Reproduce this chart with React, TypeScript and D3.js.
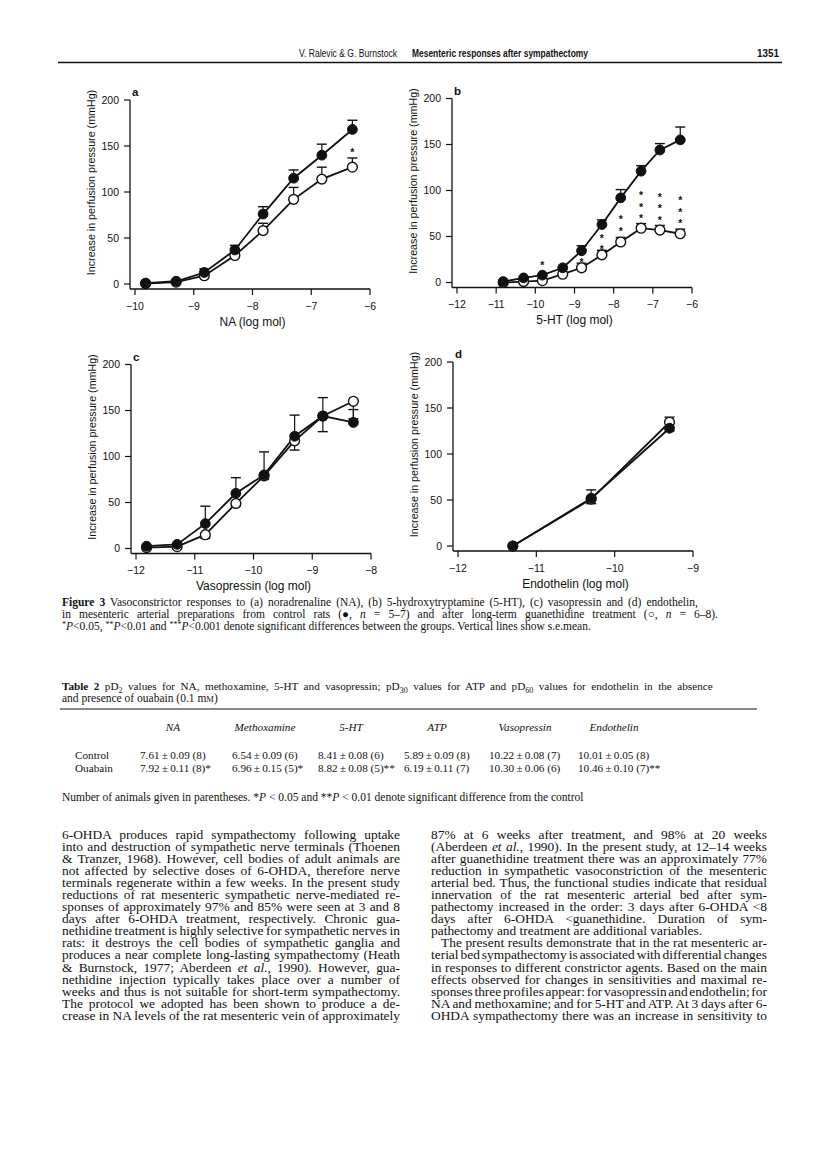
import React, { useLayoutEffect, useRef } from "react";
import * as d3 from "d3";

// ---------- Figure 3 data (x = log mol, y = increase in perfusion pressure, mmHg) ----------
// (a) NA
const naDoses = [-9.82, -9.3, -8.82, -8.3, -7.82, -7.3, -6.82, -6.3];
const naControl = [1, 3, 12.5, 37, 76, 115, 140, 168];
const naControlSem = [0, 0, 4, 5, 8, 9, 12, 10];
const naGuan = [0.5, 2, 9, 31, 58, 92, 114, 127];
const naGuanSem = [0, 0, 0, 0, 8, 13, 13, 10];
const naStarDoses = [-6.3];
const naStarLevels = [146];
const naStarCounts = [1];

// (b) 5-HT
const htDoses = [-10.82, -10.3, -9.82, -9.3, -8.82, -8.3, -7.82, -7.3, -6.82, -6.3];
const htControl = [1, 5, 8, 16, 34.5, 63, 92, 121, 144, 155];
const htControlSem = [0, 0, 0, 0, 5.5, 5, 9, 6, 7, 14];
const htGuan = [0, 1, 2, 9, 16, 30, 44, 59, 57, 53];
const htGuanSem = [0, 0, 0, 0, 5, 5, 5, 5, 5, 5];
const htStarDoses = [-9.82, -8.82, -8.3, -7.82, -7.3, -6.82, -6.3];
const htStarLevels = [20.7, 24.4, 51, 71, 97.5, 95.6, 92];
const htStarCounts = [1, 1, 2, 2, 3, 3, 3];

// (c) Vasopressin
const vpDoses = [-11.82, -11.3, -10.82, -10.3, -9.82, -9.3, -8.82, -8.3];
const vpControl = [2.5, 4.5, 27, 60, 80, 122, 144, 137];
const vpControlSem = [0, 0, 19, 17, 25, 23, 20, 14];
const vpGuan = [1, 2, 15, 49, 79, 117, 144, 160];
const vpGuanSem = [0, 0, 4, 3, 4, 10, 17, 19];

// (d) Endothelin
const etDoses = [-11.3, -10.3, -9.3];
const etControl = [0, 52, 128];
const etControlSem = [0, 6, 3];
const etGuan = [0, 51, 134.5];
const etGuanSem = [0, 10, 5.5];

const yTicks = [0, 50, 100, 150, 200];

// ---------- Text content ----------
const headerAuthors = "V. Ralevic & G. Burnstock";
const headerTitle = "Mesenteric responses after sympathectomy";
const headerPage = "1351";

const tableCols = ["NA", "Methoxamine", "5-HT", "ATP", "Vasopressin", "Endothelin"];
const tableRowNames = ["Control", "Ouabain"];
const tableControl = ["7.61\u2009±\u20090.09 (8)", "6.54\u2009±\u20090.09 (6)", "8.41\u2009±\u20090.08 (6)", "5.89\u2009±\u20090.09 (8)", "10.22\u2009±\u20090.08 (7)", "10.01\u2009±\u20090.05 (8)"];
const tableOuabain = ["7.92\u2009±\u20090.11 (8)*", "6.96\u2009±\u20090.15 (5)*", "8.82\u2009±\u20090.08 (5)**", "6.19\u2009±\u20090.11 (7)", "10.30\u2009±\u20090.06 (6)", "10.46\u2009±\u20090.10 (7)**"];

const leftColumn = [
  "6-OHDA produces rapid sympathectomy following uptake",
  "into and destruction of sympathetic nerve terminals (Thoenen",
  "& Tranzer, 1968). However, cell bodies of adult animals are",
  "not affected by selective doses of 6-OHDA, therefore nerve",
  "terminals regenerate within a few weeks. In the present study",
  "reductions of rat mesenteric sympathetic nerve-mediated re-",
  "sponses of approximately 97% and 85% were seen at 3 and 8",
  "days after 6-OHDA treatment, respectively. Chronic gua-",
  "nethidine treatment is highly selective for sympathetic nerves in",
  "rats: it destroys the cell bodies of sympathetic ganglia and",
  "produces a near complete long-lasting sympathectomy (Heath",
  "& Burnstock, 1977; Aberdeen |et al.|, 1990). However, gua-",
  "nethidine injection typically takes place over a number of",
  "weeks and thus is not suitable for short-term sympathectomy.",
  "The protocol we adopted has been shown to produce a de-",
  "crease in NA levels of the rat mesenteric vein of approximately",
];
const rightColumn = [
  "87% at 6 weeks after treatment, and 98% at 20 weeks",
  "(Aberdeen |et al.|, 1990). In the present study, at 12\u201314 weeks",
  "after guanethidine treatment there was an approximately 77%",
  "reduction in sympathetic vasoconstriction of the mesenteric",
  "arterial bed. Thus, the functional studies indicate that residual",
  "innervation of the rat mesenteric arterial bed after sym-",
  "pathectomy increased in the order: 3 days after 6-OHDA <8",
  "days after 6-OHDA <guanethidine. Duration of sym-",
  "pathectomy and treatment are additional variables.",
  "The present results demonstrate that in the rat mesenteric ar-",
  "terial bed sympathectomy is associated with differential changes",
  "in responses to different constrictor agents. Based on the main",
  "effects observed for changes in sensitivities and maximal re-",
  "sponses three profiles appear: for vasopressin and endothelin; for",
  "NA and methoxamine; and for 5-HT and ATP. At 3 days after 6-",
  "OHDA sympathectomy there was an increase in sensitivity to",
];
const rightRagged = [8];
const rightIndent = [9];

const SANS = "'Liberation Sans', Arial, Helvetica, sans-serif";
const NARROW = "'Liberation Sans Narrow', 'Liberation Sans', Arial, sans-serif";
const SERIF = "'Liberation Serif', 'Times New Roman', Times, serif";
const INK = "#111";

type PanelCfg = {
  letter: string;
  xDomain: [number, number];
  xTitle: string;
  doses: number[];
  control: number[];
  controlSem: number[];
  controlDir: number;
  guan: number[];
  guanSem: number[];
  guanDir: number;
  starDoses?: number[];
  starLevels?: number[];
  starCounts?: number[];
};

const panels: { cfg: PanelCfg; left: number; top: number }[] = [
  {
    cfg: { letter: "a", xDomain: [-10, -6], xTitle: "NA (log mol)", doses: naDoses, control: naControl, controlSem: naControlSem, controlDir: 1, guan: naGuan, guanSem: naGuanSem, guanDir: 1, starDoses: naStarDoses, starLevels: naStarLevels, starCounts: naStarCounts },
    left: 130, top: 100,
  },
  {
    cfg: { letter: "b", xDomain: [-12, -6], xTitle: "5-HT (log mol)", doses: htDoses, control: htControl, controlSem: htControlSem, controlDir: 1, guan: htGuan, guanSem: htGuanSem, guanDir: 1, starDoses: htStarDoses, starLevels: htStarLevels, starCounts: htStarCounts },
    left: 452, top: 98.5,
  },
  {
    cfg: { letter: "c", xDomain: [-12, -8], xTitle: "Vasopressin (log mol)", doses: vpDoses, control: vpControl, controlSem: vpControlSem, controlDir: 1, guan: vpGuan, guanSem: vpGuanSem, guanDir: -1 },
    left: 131, top: 364.5,
  },
  {
    cfg: { letter: "d", xDomain: [-12, -9], xTitle: "Endothelin (log mol)", doses: etDoses, control: etControl, controlSem: etControlSem, controlDir: -1, guan: etGuan, guanSem: etGuanSem, guanDir: 1 },
    left: 453, top: 362,
  },
];

const fmt = (v: number) => (v < 0 ? "\u2212" + Math.abs(v) : String(v));

function Panel({ cfg, left, top }: { cfg: PanelCfg; left: number; top: number }) {
  const W = 235;
  const H = 184;
  const off = 5;
  const x = d3.scaleLinear().domain(cfg.xDomain).range([left + off, left + off + W]);
  const y = d3.scaleLinear().domain([0, 200]).range([top + H, top]);
  const axisY = top + H + off;
  const xTicks = d3.range(cfg.xDomain[0], cfg.xDomain[1] + 0.001, 1);
  const line = d3
    .line<number>()
    .x((_, i) => x(cfg.doses[i]))
    .y((d) => y(d));
  const r = 4.9;
  const cap = 5;

  const errBars = (vals: number[], sems: number[], dir: number, key: string) =>
    vals.map((v, i) =>
      sems[i] > 0 ? (
        <g key={key + i}>
          <line x1={x(cfg.doses[i])} x2={x(cfg.doses[i])} y1={y(v)} y2={y(v + dir * sems[i])} stroke={INK} strokeWidth={1.2} />
          <line x1={x(cfg.doses[i]) - cap} x2={x(cfg.doses[i]) + cap} y1={y(v + dir * sems[i])} y2={y(v + dir * sems[i])} stroke={INK} strokeWidth={1.4} />
        </g>
      ) : null
    );

  const stars: JSX.Element[] = [];
  (cfg.starDoses || []).forEach((d, i) => {
    const n = cfg.starCounts![i];
    for (let k = 0; k < n; k++) {
      stars.push(
        <text key={"s" + i + "_" + k} x={x(d)} y={y(cfg.starLevels![i]) + k * 11.7 + 6} textAnchor="middle" fontFamily={SANS} fontSize={10.5} fontWeight="bold" fill={INK}>
          *
        </text>
      );
    }
  });

  return (
    <g>
      <line x1={left} x2={left} y1={y(200)} y2={axisY} stroke={INK} strokeWidth={1.3} />
      <line x1={left} x2={x(cfg.xDomain[1])} y1={axisY} y2={axisY} stroke={INK} strokeWidth={1.3} />
      {yTicks.map((t) => (
        <g key={"y" + t}>
          <line x1={left - 6} x2={left} y1={y(t)} y2={y(t)} stroke={INK} strokeWidth={1.2} />
          <text x={left - 11} y={y(t) + 3.8} textAnchor="end" fontFamily={SANS} fontSize={10.5} fill={INK}>
            {t}
          </text>
        </g>
      ))}
      {xTicks.map((t) => (
        <g key={"x" + t}>
          <line x1={x(t)} x2={x(t)} y1={axisY} y2={axisY + 6} stroke={INK} strokeWidth={1.2} />
          <text x={x(t)} y={axisY + 20.5} textAnchor="middle" fontFamily={SANS} fontSize={10.5} fill={INK}>
            {fmt(t)}
          </text>
        </g>
      ))}
      <text x={x((cfg.xDomain[0] + cfg.xDomain[1]) / 2)} y={axisY + 36.5} textAnchor="middle" fontFamily={SANS} fontSize={12} fill={INK}>
        {cfg.xTitle}
      </text>
      <text transform={`translate(${left - 35.5},${top + 82.5}) rotate(-90)`} textAnchor="middle" fontFamily={SANS} fontSize={10.7} fill={INK}>
        Increase in perfusion pressure (mmHg)
      </text>
      <text x={left + 2} y={top - 4} fontFamily={SANS} fontSize={11.5} fontWeight="bold" fill={INK}>
        {cfg.letter}
      </text>

      <path d={line(cfg.guan) || ""} fill="none" stroke={INK} strokeWidth={1.8} />
      <path d={line(cfg.control) || ""} fill="none" stroke={INK} strokeWidth={1.8} />
      {errBars(cfg.guan, cfg.guanSem, cfg.guanDir, "eg")}
      {errBars(cfg.control, cfg.controlSem, cfg.controlDir, "ec")}
      {cfg.guan.map((v, i) => (
        <circle key={"og" + i} cx={x(cfg.doses[i])} cy={y(v)} r={r} fill="#fff" stroke={INK} strokeWidth={1.4} />
      ))}
      {cfg.control.map((v, i) => (
        <circle key={"fc" + i} cx={x(cfg.doses[i])} cy={y(v)} r={r} fill={INK} stroke={INK} strokeWidth={1} />
      ))}
      {stars}
    </g>
  );
}

// A text line justified by word spacing (measured after layout).
function JText({ x, y, width, justify, children, ...rest }: any) {
  const ref = useRef<SVGTextElement>(null);
  useLayoutEffect(() => {
    const el = ref.current;
    if (!el || !justify) return;
    el.style.wordSpacing = "0px";
    const w = el.getComputedTextLength();
    const n = (el.textContent || "").split(" ").length - 1;
    if (n > 0) el.style.wordSpacing = (width - w) / n + "px";
  }, [width, justify]);
  return (
    <text ref={ref} x={x} y={y} {...rest}>
      {children}
    </text>
  );
}

function rich(s: string) {
  return s.split("|").map((part, i) =>
    i % 2 === 1 ? (
      <tspan key={i} fontStyle="italic">
        {part}
      </tspan>
    ) : (
      <tspan key={i}>{part}</tspan>
    )
  );
}

function Column({ lines, x0, width, y0, lh, ragged, indent }: { lines: string[]; x0: number; width: number; y0: number; lh: number; ragged: number[]; indent: number[] }) {
  const sx = 1.1;
  return (
    <g transform={`translate(${x0},0) scale(${sx},1)`}>
      {lines.map((l, i) => {
        const ind = indent.includes(i) ? 10 : 0;
        return (
          <JText key={i} x={ind / sx} y={y0 + i * lh} width={(width - ind) / sx} justify={!ragged.includes(i)} fontFamily={SERIF} fontSize={12.2} fill={INK}>
            {rich(l)}
          </JText>
        );
      })}
    </g>
  );
}

export default function App() {
  const tStarts = [140, 232, 318, 404, 489, 578];
  const tWidths = [66, 66, 66, 66, 72, 72];
  return (
    <div style={{ position: "absolute", left: 0, top: 0, width: 816, height: 1165, background: "#fff" }}>
      <svg width={816} height={1165} viewBox="0 0 816 1165" style={{ display: "block" }}>
        <rect width={816} height={1165} fill="#fff" />
        {/* running header */}
        <text x={299} y={57} fontFamily={NARROW} fontSize={11} fill={INK} textLength={98} lengthAdjust="spacingAndGlyphs">
          {headerAuthors}
        </text>
        <text x={412} y={57} fontFamily={NARROW} fontSize={11} fontWeight="bold" fill={INK} textLength={176} lengthAdjust="spacingAndGlyphs">
          {headerTitle}
        </text>
        <text x={757} y={57} fontFamily={NARROW} fontSize={11} fontWeight="bold" fill={INK} textLength={22} lengthAdjust="spacingAndGlyphs">
          {headerPage}
        </text>
        <line x1={58} x2={782} y1={62.5} y2={62.5} stroke={INK} strokeWidth={1.3} />

        {panels.map((p) => (
          <Panel key={p.cfg.letter} cfg={p.cfg} left={p.left} top={p.top} />
        ))}

        {/* Figure caption */}
        <g fontFamily={SERIF} fontSize={11.5} fill={INK}>
          <JText x={62} y={606} width={638} justify={true}>
            <tspan fontWeight="bold">Figure 3</tspan>
            <tspan>{"  Vasoconstrictor responses to (a) noradrenaline (NA), (b) 5-hydroxytryptamine (5-HT), (c) vasopressin and (d) endothelin,"}</tspan>
          </JText>
          <JText x={62} y={618} width={656} justify={true}>
            <tspan>{"in mesenteric arterial preparations from control rats (\u25CF, "}</tspan>
            <tspan fontStyle="italic">n</tspan>
            <tspan>{" = 5\u20137) and after long-term guanethidine treatment (\u25CB, "}</tspan>
            <tspan fontStyle="italic">n</tspan>
            <tspan>{" = 6\u20138)."}</tspan>
          </JText>
          <text x={62} y={630}>
            <tspan fontSize={8} dy={-3}>*</tspan>
            <tspan fontStyle="italic" dy={3}>P</tspan>
            <tspan>{"<0.05, "}</tspan>
            <tspan fontSize={8} dy={-3}>**</tspan>
            <tspan fontStyle="italic" dy={3}>P</tspan>
            <tspan>{"<0.01 and "}</tspan>
            <tspan fontSize={8} dy={-3}>***</tspan>
            <tspan fontStyle="italic" dy={3}>P</tspan>
            <tspan>{"<0.001 denote significant differences between the groups. Vertical lines show s.e.mean."}</tspan>
          </text>
        </g>

        {/* Table 2 */}
        <g fontFamily={SERIF} fontSize={11.2} fill={INK}>
          <JText x={62} y={690} width={656} justify={true} fontSize={11.2}>
            <tspan fontWeight="bold">Table 2</tspan>
            <tspan>{"   pD"}</tspan>
            <tspan fontSize={8} dy={2.5}>2</tspan>
            <tspan dy={-2.5}>{" values for NA, methoxamine, 5-HT and vasopressin; pD"}</tspan>
            <tspan fontSize={8} dy={2.5}>30</tspan>
            <tspan dy={-2.5}>{" values for ATP and pD"}</tspan>
            <tspan fontSize={8} dy={2.5}>60</tspan>
            <tspan dy={-2.5}>{" values for endothelin in the absence"}</tspan>
          </JText>
          <text x={62} y={702} fontSize={11.5}>
            <tspan>{"and presence of ouabain (0.1 m"}</tspan>
            <tspan fontSize={8.5}>M</tspan>
            <tspan>)</tspan>
          </text>
          <line x1={60} x2={757} y1={709} y2={709} stroke={INK} strokeWidth={1.1} />
          {tableCols.map((c, i) => (
            <text key={c} x={tStarts[i] + tWidths[i] / 2} y={731} textAnchor="middle" fontStyle="italic">
              {c}
            </text>
          ))}
          {tableRowNames.map((n, i) => (
            <text key={n} x={75} y={759 + i * 13}>
              {n}
            </text>
          ))}
          {tableControl.map((v, i) => (
            <text key={"c" + i} x={tStarts[i]} y={759}>
              {v}
            </text>
          ))}
          {tableOuabain.map((v, i) => (
            <text key={"o" + i} x={tStarts[i]} y={772}>
              {v}
            </text>
          ))}
          <text x={62} y={801} fontSize={11.5}>
            <tspan>{"Number of animals given in parentheses. *"}</tspan>
            <tspan fontStyle="italic">P</tspan>
            <tspan>{" < 0.05 and **"}</tspan>
            <tspan fontStyle="italic">P</tspan>
            <tspan>{" < 0.01 denote significant difference from the control"}</tspan>
          </text>
        </g>

        {/* Body text */}
        <Column lines={leftColumn} x0={62} width={338} y0={839} lh={12.05} ragged={[]} indent={[]} />
        <Column lines={rightColumn} x0={431} width={336} y0={839} lh={12.05} ragged={rightRagged} indent={rightIndent} />
      </svg>
    </div>
  );
}
